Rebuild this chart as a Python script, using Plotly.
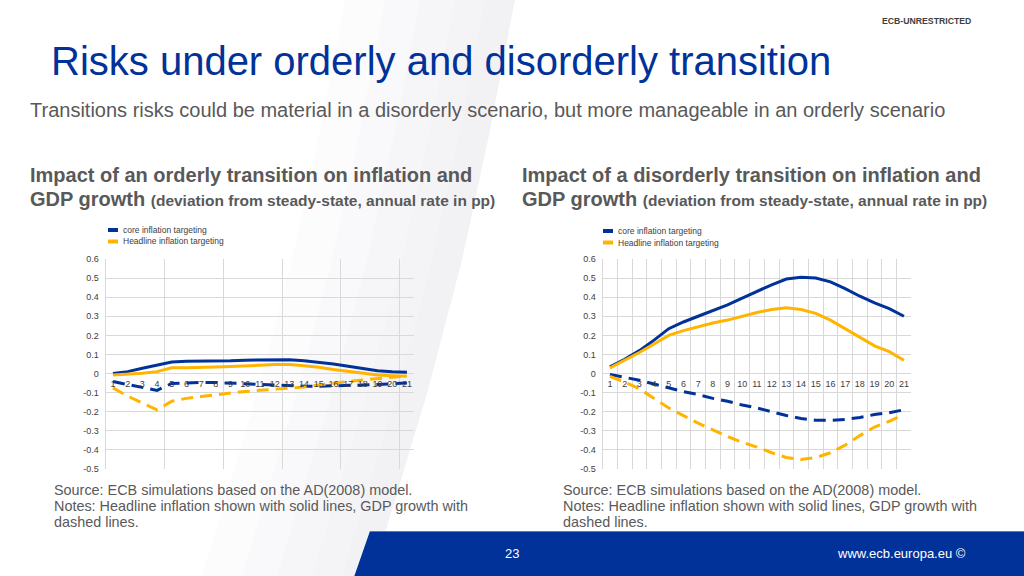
import plotly.graph_objects as go

# quarters on the x axis
periods = list(range(1, 22))
period_labels = [str(q) for q in periods]

y_ticks = [0.6, 0.5, 0.4, 0.3, 0.2, 0.1, 0, -0.1, -0.2, -0.3, -0.4, -0.5]
y_tick_labels = ["0.6", "0.5", "0.4", "0.3", "0.2", "0.1", "0", "-0.1", "-0.2", "-0.3", "-0.4", "-0.5"]

series_names = ["core inflation targeting", "Headline inflation targeting"]

# orderly transition (left)
orderly_core_infl = [0.0, 0.01, 0.028, 0.045, 0.06, 0.064, 0.064, 0.065, 0.067, 0.07, 0.071,
                     0.074, 0.072, 0.067, 0.06, 0.05, 0.038, 0.026, 0.015, 0.01, 0.007]
orderly_head_infl = [-0.008, -0.004, 0.002, 0.01, 0.03, 0.031, 0.031, 0.034, 0.037, 0.039, 0.043,
                     0.047, 0.047, 0.041, 0.033, 0.021, 0.011, 0.001, -0.007, -0.011, -0.014]
orderly_core_gdp = [-0.042, -0.058, -0.072, -0.088, -0.052, -0.048, -0.046, -0.047, -0.05, -0.054, -0.058,
                    -0.062, -0.065, -0.066, -0.066, -0.065, -0.062, -0.06, -0.057, -0.054, -0.05]
orderly_head_gdp = [-0.075, -0.118, -0.155, -0.19, -0.145, -0.13, -0.12, -0.11, -0.1, -0.094, -0.088,
                    -0.082, -0.077, -0.07, -0.06, -0.05, -0.042, -0.034, -0.026, -0.018, -0.012]

# disorderly transition (right)
disorderly_core_infl = [0.035, 0.075, 0.12, 0.175, 0.235, 0.27, 0.3, 0.33, 0.36, 0.395, 0.43,
                        0.465, 0.495, 0.505, 0.5, 0.48, 0.445, 0.405, 0.37, 0.34, 0.3]
disorderly_head_infl = [0.03, 0.07, 0.11, 0.155, 0.2, 0.225, 0.245, 0.265, 0.28, 0.3, 0.32,
                        0.335, 0.345, 0.335, 0.315, 0.28, 0.235, 0.19, 0.145, 0.115, 0.07]
disorderly_core_gdp = [-0.005, -0.02, -0.035, -0.055, -0.075, -0.095, -0.11, -0.13, -0.145, -0.165, -0.18,
                       -0.2, -0.22, -0.235, -0.245, -0.245, -0.24, -0.23, -0.215, -0.205, -0.19]
disorderly_head_gdp = [-0.015, -0.045, -0.08, -0.13, -0.18, -0.22, -0.26, -0.295, -0.33, -0.36, -0.385,
                       -0.415, -0.44, -0.45, -0.44, -0.415, -0.375, -0.325, -0.28, -0.25, -0.215]

BLUE = "#003299"
YELLOW = "#FFB400"
GREY_TXT = "#595959"
FONT = "Liberation Sans, Arial"
W, H = 1024, 576

def px(x):
    return x / W

def py(y):
    return 1 - y / H

fig = go.Figure()

def add_chart(xa, ya, core_infl, head_infl, core_gdp, head_gdp):
    for vals, col, dash in [(core_gdp, BLUE, "12px,7px"), (head_gdp, YELLOW, "12px,7px"),
                            (core_infl, BLUE, "solid"), (head_infl, YELLOW, "solid")]:
        fig.add_trace(go.Scatter(x=periods, y=vals, mode="lines", xaxis=xa, yaxis=ya,
                                 line=dict(color=col, width=3, dash=dash),
                                 showlegend=False, hoverinfo="skip"))

add_chart("x", "y", orderly_core_infl, orderly_head_infl, orderly_core_gdp, orderly_head_gdp)
add_chart("x2", "y2", disorderly_core_infl, disorderly_head_infl, disorderly_core_gdp, disorderly_head_gdp)

y_dom = [py(469), py(259)]
zero_pos = y_dom[0] + (0.5 / 1.1) * (y_dom[1] - y_dom[0])

def x_axis(left, right, grid_vals):
    return dict(domain=[px(left), px(right)], range=[0.5, 21.5], anchor="free", position=zero_pos,
                tickmode="array", tickvals=periods, ticktext=period_labels,
                showgrid=False, zeroline=False, showline=False, ticks="", ticklabelstandoff=3,
                tickfont=dict(size=9, color="#404040", family=FONT),
                minor=dict(tickvals=grid_vals, showgrid=True, gridcolor="#d9d9d9", gridwidth=1, ticks=""),
                automargin=False, fixedrange=True)

def y_axis(anchor_x):
    return dict(domain=y_dom, range=[-0.5, 0.6], anchor=anchor_x, tickmode="array",
                tickvals=y_ticks, ticktext=y_tick_labels, showgrid=True, gridcolor="#d9d9d9",
                zeroline=False, showline=True, linecolor="#d9d9d9", ticks="",
                ticklabelstandoff=4, automargin=False,
                tickfont=dict(size=9, color="#404040", family=FONT))

left_grid = [4.5, 8.5, 12.5, 16.5, 20.5]
right_grid = [p + 0.5 for p in periods[:-1]]

fig.update_layout(
    width=W, height=H, margin=dict(l=0, r=0, t=0, b=0, pad=0, autoexpand=False),
    paper_bgcolor="white", plot_bgcolor="rgba(0,0,0,0)",
    font=dict(family=FONT, color=GREY_TXT),
    xaxis=x_axis(105.6, 414.3, left_grid),
    yaxis=y_axis("x"),
    xaxis2=x_axis(602.6, 911.3, right_grid),
    yaxis2=y_axis("x2"),
)

shapes = []

# faint background swoosh, built as a few stacked translucent bands
edge = [(515, 0), (490, 130), (462, 260), (428, 390), (395, 500), (372, 576)]
for d in [30, 60, 95, 130, 170]:
    pts = edge + [(x - d, y) for x, y in reversed(edge)]
    path = "M " + " L ".join("%f,%f" % (px(x), py(y)) for x, y in pts) + " Z"
    shapes.append(dict(type="path", xref="paper", yref="paper", layer="below", line=dict(width=0),
                       fillcolor="rgba(222,226,234,0.1)", path=path))

# footer band (runs a little past the bottom edge)
shapes.append(dict(type="path", xref="paper", yref="paper", layer="above", line=dict(width=0),
                   fillcolor=BLUE,
                   path="M %f,%f L %f,%f L %f,%f L %f,%f Z" % (
                       px(370), py(531), px(1030), py(531), px(1030), py(600), px(346), py(600))))
shapes.append(dict(type="line", xref="paper", yref="paper", x0=px(370), x1=px(1030),
                   y0=py(531.5), y1=py(531.5), line=dict(color="#5a78c0", width=1)))

annotations = []

def text(x, y, s, size, color=GREY_TXT, xanchor="left"):
    annotations.append(dict(x=px(x), y=py(y), xref="paper", yref="paper", text=s, showarrow=False,
                            xanchor=xanchor, yanchor="middle", align="left",
                            font=dict(size=size, color=color, family=FONT)))

text(973, 21, "<b>ECB-UNRESTRICTED</b>", 8.7, "#404040", xanchor="right")
text(49, 61, "Risks under orderly and disorderly transition", 40, BLUE)
text(28, 110, "Transitions risks could be material in a disorderly scenario, but more manageable in an orderly scenario", 20)

for x0, head in [(28, "Impact of an orderly transition on inflation and"),
                 (520, "Impact of a disorderly transition on inflation and")]:
    text(x0, 175, "<b>" + head + "</b>", 20)
    text(x0, 199, "<b>GDP growth</b> <b><span style='font-size:15.5px'>(deviation from steady-state, annual rate in pp)</span></b>", 20)

for x0 in [52, 561]:
    text(x0, 490, "Source: ECB simulations based on the AD(2008) model.", 14.4)
    text(x0, 506, "Notes: Headline inflation shown with solid lines, GDP growth with", 14.4)
    text(x0, 522, "dashed lines.", 14.4)

text(512, 553, "23", 13, "white", xanchor="center")
text(968, 553, "www.ecb.europa.eu ©", 13, "white", xanchor="right")

# legends for each chart
for lx, ly in [(108, 230), (603, 231)]:
    for i, (name, col) in enumerate(zip(series_names, [BLUE, YELLOW])):
        yy = ly + i * 11.5
        shapes.append(dict(type="line", xref="paper", yref="paper", x0=px(lx), x1=px(lx + 10),
                           y0=py(yy), y1=py(yy), line=dict(color=col, width=4)))
        text(lx + 13, yy, name, 8.5, "#404040")

fig.update_layout(shapes=shapes, annotations=annotations)

page_fix = ("var s=document.documentElement.style, b=document.body.style;"
            "b.margin='0'; b.overflow='hidden'; s.overflow='hidden';")

fig.write_html("out.html", config={"displayModeBar": False}, post_script=page_fix)
